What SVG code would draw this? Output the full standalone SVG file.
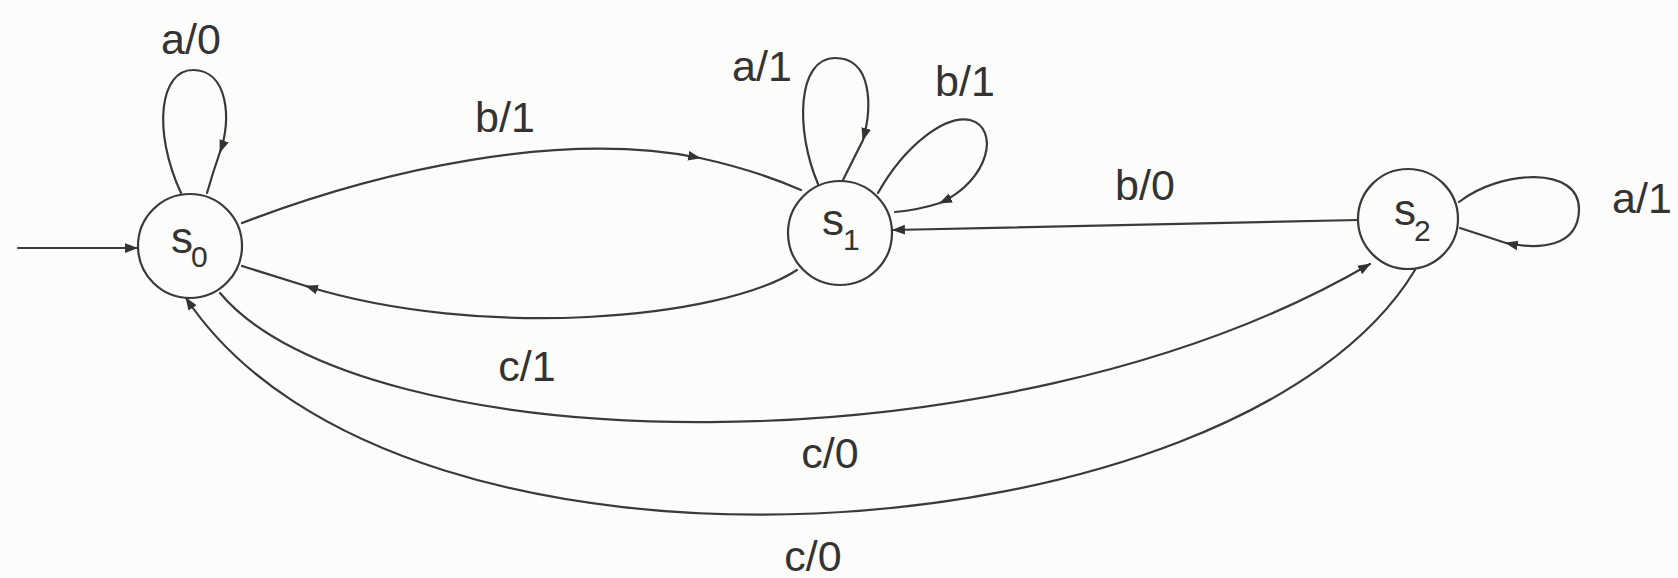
<svg xmlns="http://www.w3.org/2000/svg" width="1678" height="578" viewBox="0 0 1678 578">
<style>
.bg{fill:#fcfcfb}
.st{fill:none;stroke:#3a3a3a;stroke-width:2.2}
.lbl{font-family:"Liberation Sans",Arial,sans-serif;font-size:43px;fill:#333;text-anchor:middle}
.nl{font-family:"Liberation Sans",Arial,sans-serif;font-size:44px;fill:#333}
.sub{font-size:30px}
.c{fill:none;stroke:#3a3a3a;stroke-width:2.2;stroke-linecap:round}
.a{marker-end:url(#ah)}
</style>
<defs>
<marker id="ah" viewBox="0 0 12 10" refX="11" refY="5" markerWidth="13" markerHeight="11" markerUnits="userSpaceOnUse" orient="auto">
<path d="M0,0.5 L12,5 L0,9.5 Z" fill="#333"/>
</marker>
</defs>
<rect class="bg" x="0" y="0" width="1678" height="578"/>
<g id="connectors">
<path class="c a" d="M18 248 L137 248"/>
<path class="c a" d="M181 193 C152 130 160 70 193 70 C228 70 232 120 220 152"/>
<path class="c" d="M220 152 Q213 172 207 193"/>
<path class="c a" d="M242 223 C380 170 560 130 700 158"/>
<path class="c" d="M700 158 Q755 170 801 190"/>
<path class="c a" d="M797 270 C720 320 480 340 306 286"/>
<path class="c" d="M306 286 L242 266"/>
<path class="c a" d="M220 293 C360 460 1000 480 1370 264"/>
<path class="c a" d="M1415 270 C1240 560 400 620 186 298"/>
<path class="c a" d="M1358 220 L893 230"/>
<path class="c a" d="M818 184 C795 130 797 58 835 58 C873 58 872 108 863 140"/>
<path class="c" d="M863 140 L843 180"/>
<path class="c a" d="M878 193 C905 145 945 115 970 120 C1000 128 990 180 940 203"/>
<path class="c" d="M940 203 Q918 210 895 212"/>
<path class="c a" d="M1459 202 C1500 170 1580 165 1579 210 C1578 247 1540 250 1506 243"/>
<path class="c" d="M1506 243 L1460 228"/>
<text class="lbl" x="191" y="54">a/0</text>
<text class="lbl" x="505" y="132">b/1</text>
<text class="lbl" x="762" y="81">a/1</text>
<text class="lbl" x="965" y="96">b/1</text>
<text class="lbl" x="1145" y="200">b/0</text>
<text class="lbl" x="1642" y="213">a/1</text>
<text class="lbl" x="527" y="381">c/1</text>
<text class="lbl" x="830" y="468">c/0</text>
<text class="lbl" x="813" y="571">c/0</text>
</g>
<g id="s0">
<circle class="st" cx="190" cy="246" r="52"/>
<text class="nl" x="171" y="253">s<tspan class="sub" dx="-2" dy="14">0</tspan></text>
</g>
<g id="s1">
<circle class="st" cx="840" cy="233" r="52"/>
<text class="nl" x="822" y="235">s<tspan class="sub" dx="-1" dy="15">1</tspan></text>
</g>
<g id="s2">
<circle class="st" cx="1408" cy="219" r="50"/>
<text class="nl" x="1394" y="225">s<tspan class="sub" dx="-2" dy="16">2</tspan></text>
</g>
</svg>
